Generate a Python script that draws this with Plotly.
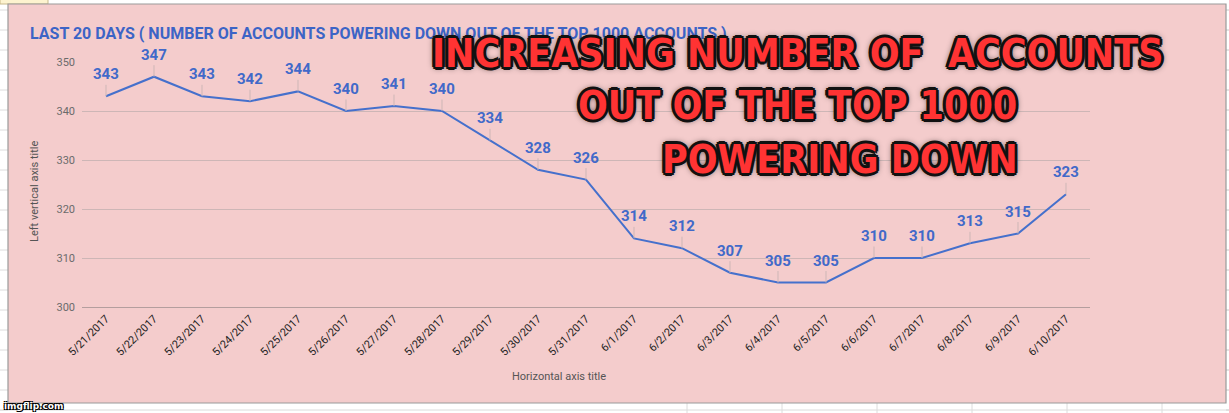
import plotly.graph_objects as go

dates = ["5/21/2017", "5/22/2017", "5/23/2017", "5/24/2017", "5/25/2017", "5/26/2017",
         "5/27/2017", "5/28/2017", "5/29/2017", "5/30/2017", "5/31/2017", "6/1/2017",
         "6/2/2017", "6/3/2017", "6/4/2017", "6/5/2017", "6/6/2017", "6/7/2017",
         "6/8/2017", "6/9/2017", "6/10/2017"]
accounts = [343, 347, 343, 342, 344, 340, 341, 340, 334, 328, 326, 314,
            312, 307, 305, 305, 310, 310, 313, 315, 323]
y_ticks = [300, 310, 320, 330, 340, 350]

title_text = "LAST 20 DAYS ( NUMBER OF ACCOUNTS POWERING DOWN OUT OF THE TOP 1000 ACCOUNTS )"
meme_lines = ["INCREASING NUMBER OF  ACCOUNTS", "OUT OF THE TOP 1000", "POWERING DOWN"]

W, H = 1229, 413
L, R, T, B = 82, 139, 62, 106
PW, PH = W - L - R, H - T - B

def px(x):
    return (x - L) / PW

def py(y):
    return (H - B - y) / PH

BLUE_LINE = "#4570cc"
BLUE_TEXT = "#4169c9"
PINK = "#f4cccc"
GRID = "#cdb6b6"

fig = go.Figure()
fig.add_trace(go.Scatter(
    x=dates, y=accounts, mode="lines",
    line=dict(color=BLUE_LINE, width=2),
    hoverinfo="x+y", showlegend=False,
))

shapes = []
# spreadsheet background grid
for yy in range(10, 413, 20):
    shapes.append(dict(type="line", xref="paper", yref="paper", x0=px(0), x1=px(8),
                       y0=py(yy), y1=py(yy), line=dict(color="#dcdcdc", width=1), layer="below"))
    shapes.append(dict(type="line", xref="paper", yref="paper", x0=px(1226), x1=px(1229),
                       y0=py(yy), y1=py(yy), line=dict(color="#c8c8c8", width=1), layer="below"))
for xx in [687, 782, 877, 972, 1067, 1162]:
    shapes.append(dict(type="line", xref="paper", yref="paper", x0=px(xx), x1=px(xx),
                       y0=py(403), y1=py(413), line=dict(color="#dcdcdc", width=1), layer="below"))
shapes.append(dict(type="line", xref="paper", yref="paper", x0=px(0), x1=px(1229),
                   y0=py(410), y1=py(410), line=dict(color="#dcdcdc", width=1), layer="below"))
shapes.append(dict(type="rect", xref="paper", yref="paper", x0=px(0), x1=px(48),
                   y0=py(4), y1=py(-2), fillcolor="#fdf3cf", line=dict(color="#c9b98a", width=1),
                   layer="below"))
# pink chart panel
shapes.append(dict(type="rect", xref="paper", yref="paper", x0=px(8), x1=px(1226),
                   y0=py(403), y1=py(4), fillcolor=PINK, line=dict(color="#9a9a9a", width=1.2),
                   layer="below"))

annotations = []
# leader lines + data labels
for d, v in zip(dates, accounts):
    annotations.append(dict(
        x=d, y=v, xref="x", yref="y", text=str(v), showarrow=True,
        arrowhead=0, arrowwidth=1, arrowcolor=GRID, ax=0, ay=-22,
        font=dict(family="Roboto", size=15, color=BLUE_TEXT, weight="bold"),
    ))

annotations.append(dict(
    x=px(28), y=py(34), xref="paper", yref="paper", xanchor="left", yanchor="middle",
    text=title_text, showarrow=False,
    font=dict(family="Roboto", size=16, color="#3c64c6", weight="bold"),
))
annotations.append(dict(
    x=px(35), y=py(192), xref="paper", yref="paper", xanchor="center", yanchor="middle",
    text="Left vertical axis title", textangle=-90, showarrow=False,
    font=dict(family="Roboto", size=11, color="#555555"),
))
annotations.append(dict(
    x=px(559), y=py(376), xref="paper", yref="paper", xanchor="center", yanchor="middle",
    text="Horizontal axis title", showarrow=False,
    font=dict(family="Roboto", size=11, color="#555555"),
))

outline = ", ".join(
    f"{dx}px {dy}px 0 #111" for dx, dy in
    [(3, 0), (-3, 0), (0, 3), (0, -3), (2, 2), (-2, -2), (2, -2), (-2, 2)]
) + ", 0 0 7px #000"
meme_font = dict(
    family="DejaVu Sans Condensed, Liberation Sans Narrow, sans-serif",
    size=39, color="#ff3333", weight="bold",
    shadow=outline,
)
meme_pos = [(797, 53), (797, 105), (840, 159)]
for text, (mx, my) in zip(meme_lines, meme_pos):
    annotations.append(dict(
        x=px(mx), y=py(my), xref="paper", yref="paper", xanchor="center", yanchor="middle",
        text=text, showarrow=False, font=meme_font,
    ))

annotations.append(dict(
    x=px(2), y=py(406), xref="paper", yref="paper", xanchor="left", yanchor="middle",
    text="imgflip.com", showarrow=False,
    font=dict(family="DejaVu Sans", size=9, color="#ffffff", weight="bold",
              shadow="1px 1px 0 #000, -1px -1px 0 #000, 1px -1px 0 #000, -1px 1px 0 #000"),
))

fig.update_layout(
    width=W, height=H,
    margin=dict(l=L, r=R, t=T, b=B, pad=0),
    paper_bgcolor="#ffffff",
    plot_bgcolor="rgba(0,0,0,0)",
    shapes=shapes,
    annotations=annotations,
    showlegend=False,
)
fig.update_xaxes(
    type="category", range=[-0.5, len(dates) - 0.5],
    tickangle=-45, showgrid=False, ticks="",
    tickfont=dict(family="Roboto", size=11, color="#222222"),
    showline=True, linecolor="#b49e9e", linewidth=1,
)
fig.update_yaxes(
    range=[300, 350], tickvals=y_ticks, ticktext=[str(t) for t in y_ticks],
    showgrid=True, gridcolor=GRID, gridwidth=1, zeroline=False, ticks="",
    ticklabelstandoff=6,
    tickfont=dict(family="Roboto", size=11, color="#6b6b6b"),
)

fig.write_html(
    "out.html",
    config={"displayModeBar": False},
    post_script="document.body.style.margin='0px';document.body.style.overflow='hidden';",
)
